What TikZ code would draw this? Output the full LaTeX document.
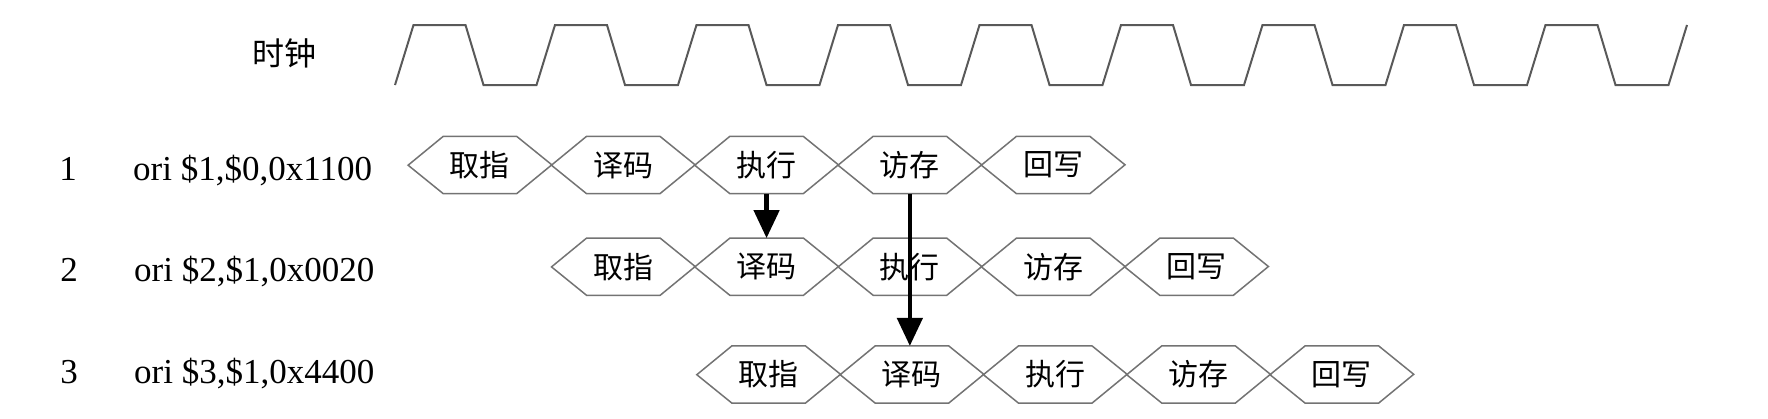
\documentclass[tikz,border=0pt]{standalone}
\usepackage{fontspec}
\setmainfont{Liberation Serif}
\newfontfamily\cjk{Noto Sans CJK SC}
\usetikzlibrary{arrows.meta}
\newcommand{\hexw}{143.3}
\newcommand{\tipx}{35}
\newcommand{\tipy}{28.35}
\tikzset{
  stage/.style={minimum width=73.3pt,minimum height=56.7pt,inner sep=0pt,
    font=\cjk\fontsize{30pt}{34pt}\selectfont},
  hexline/.style={draw=black!55,line width=1.5pt,line join=miter},
  clkline/.style={draw=black!65,line width=2pt},
  instr/.style={anchor=base west,inner sep=0pt,font=\fontsize{35pt}{40pt}\selectfont},
  numlbl/.style={anchor=base,inner sep=0pt,font=\fontsize{35pt}{40pt}\selectfont},
  dep/.style={line width=4.5pt,-{Triangle[length=28pt,width=25pt]}}
}

\begin{document}
\begin{tikzpicture}[x=1pt,y=-1pt]
     \useasboundingbox (0,0) rectangle (1768,418);
     % clock
     \node[font=\cjk\fontsize{32pt}{36pt}\selectfont] (clk) at (284,53) {时钟};
     \draw[clkline] (395,85) \foreach \k in {0,...,8} {
       -- ++(18.5,-60) -- ++(52,0) -- ++(18,60) -- ++(53,0) } -- ++(18.5,-60);
     % instructions
     \node[numlbl] (n1) at (68,180) {1};
     \node[instr] (i1) at (133,180) {ori \$1,\$0,0x1100};
     \node[numlbl] (n2) at (69,281) {2};
     \node[instr] (i2) at (134,281) {ori \$2,\$1,0x0020};
     \node[numlbl] (n3) at (69,383) {3};
     \node[instr] (i3) at (134,383) {ori \$3,\$1,0x4400};
     % pipeline stages
     \foreach \r/\x/\y in {1/408.3/165, 2/551.7/266.7, 3/697/374.5}
       \foreach \s [count=\c] in {取指,译码,执行,访存,回写} {
         \node[stage] (r\r-\c) at ({\x+\tipx+36.65+(\c-1)*\hexw},\y) {\s};
         \draw[hexline] (r\r-\c.north west) -- (r\r-\c.north east)
           -- ++(\tipx,\tipy) -- (r\r-\c.south east) -- (r\r-\c.south west)
           -- ++(-\tipx,-\tipy) -- cycle;
       }
     % data dependences
     \draw[dep] (r1-3.south) -- (r1-3.south |- r2-2.north);
     \draw[dep] (r1-4.south) -- (r1-4.south |- r3-2.north);
\end{tikzpicture}
\end{document}
